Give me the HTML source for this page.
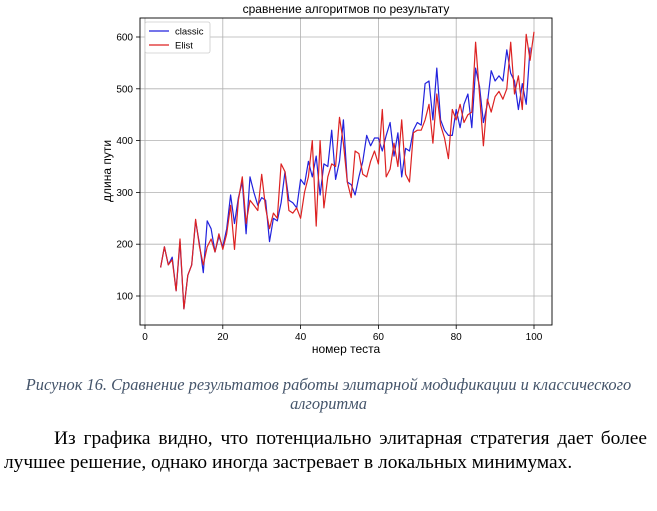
<!DOCTYPE html>
<html><head><meta charset="utf-8"><style>
body{margin:0;width:657px;height:511px;background:#fff;overflow:hidden;position:relative;font-family:"Liberation Sans",sans-serif}
.cap{position:absolute;left:0;width:657px;text-align:center;font-family:"Liberation Serif",serif;font-style:italic;font-size:16.4px;color:#44546a;line-height:19px;top:375px}
.par{position:absolute;left:4px;width:643px;font-family:"Liberation Serif",serif;font-size:19.4px;line-height:24px;top:427px;text-align:justify;text-align-last:left;text-indent:50px;color:#000}
</style></head><body>
<svg id="chart" width="657" height="360" style="position:absolute;left:0;top:0" font-family="Liberation Sans, DejaVu Sans, sans-serif"></svg>
<div class="cap">Рисунок 16. Сравнение результатов работы элитарной модификации и классического<br>алгоритма</div>
<div class="par">Из графика видно, что потенциально элитарная стратегия дает более лучшее решение, однако иногда застревает в локальных минимумах.</div>
<script>
const xStart = 4;
const classic = [155,195,160,175,110,205,75,140,160,245,200,145,245,230,185,215,195,230,295,240,290,320,220,330,300,275,290,285,205,250,245,280,340,285,280,270,325,315,360,330,370,295,355,350,420,325,360,440,320,315,295,330,360,410,390,405,405,380,410,435,370,415,330,385,380,420,435,430,510,515,440,540,440,420,410,410,460,425,470,490,425,540,505,435,470,535,515,525,515,575,530,515,460,510,470,580];
const elist = [155,195,160,170,110,210,75,140,160,248,195,160,195,210,185,220,190,220,275,190,285,330,240,285,275,265,335,270,230,260,250,355,340,265,260,270,250,300,330,400,235,400,270,330,355,350,445,395,320,290,380,375,335,330,360,380,355,460,330,345,395,350,440,335,320,415,420,420,440,470,395,490,430,405,365,460,440,470,435,450,455,590,490,390,480,455,485,495,480,500,590,490,525,460,605,555,610];
const xTicks = [0,20,40,60,80,100];
const yTicks = [100,200,300,400,500,600];
const NS="http://www.w3.org/2000/svg";
const svg=document.getElementById('chart');
const L=140,R=552,T=18,B=325;
const X=v=>145+(v)*(534-145)/100;
const Y=v=>296-(v-100)*(296-37)/500;
function mk(t,a,p){const e=document.createElementNS(NS,t);for(const k in a)e.setAttribute(k,a[k]);(p||svg).appendChild(e);return e;}
xTicks.forEach(t=>{
  const g=mk('line',{x1:X(t),x2:X(t),y1:T,y2:B,stroke:'#b0b0b0','stroke-width':0.8});
  
  
  mk('line',{x1:X(t),x2:X(t),y1:B,y2:B+4,stroke:'#000','stroke-width':0.8});
  const tx=mk('text',{x:X(t),y:B+15,'text-anchor':'middle','font-size':10});
  tx.textContent=t;
  
  
});
yTicks.forEach(t=>{
  const g=mk('line',{x1:L,x2:R,y1:Y(t),y2:Y(t),stroke:'#b0b0b0','stroke-width':0.8});
  
  
  mk('line',{x1:L-4,x2:L,y1:Y(t),y2:Y(t),stroke:'#000','stroke-width':0.8});
  const tx=mk('text',{x:L-7,y:Y(t)+3.5,'text-anchor':'end','font-size':10});
  tx.textContent=t;
  
  
});
function line(arr,col,name){
  const pts=arr.map((v,i)=>X(xStart+i).toFixed(1)+','+Y(v).toFixed(1)).join(' ');
  const p=mk('polyline',{points:pts,fill:'none',stroke:col,'stroke-width':1.2,'stroke-linejoin':'round'});
  
  
}
line(classic,'#2222dd','classic-line');
line(elist,'#dd2222','elist-line');
const fr=mk('rect',{x:L,y:T,width:R-L,height:B-T,fill:'none',stroke:'#000','stroke-width':0.9});


const title=mk('text',{x:(L+R)/2,y:13,'text-anchor':'middle','font-size':12});
title.textContent='сравнение алгоритмов по результату';


const xl=mk('text',{x:(L+R)/2,y:353,'text-anchor':'middle','font-size':12});
xl.textContent='номер теста';


const yl=mk('text',{x:0,y:0,'text-anchor':'middle','font-size':12,transform:'translate(111,171) rotate(-90)'});
yl.textContent='длина пути';


const lg=mk('g',{});


mk('rect',{x:145,y:22,width:65,height:31,fill:'#fff',stroke:'#ccc','stroke-width':0.8,rx:2},lg);
[['classic','#2222dd',31],['Elist','#dd2222',45]].forEach(([n,c,y])=>{
  const e=mk('g',{},lg);
  
  
  mk('line',{x1:149,x2:169,y1:y,y2:y,stroke:c,'stroke-width':1.3},e);
  const t=mk('text',{x:175,y:y+3.5,'font-size':9.5},e);t.textContent=n;
});
</script>
</body></html>
